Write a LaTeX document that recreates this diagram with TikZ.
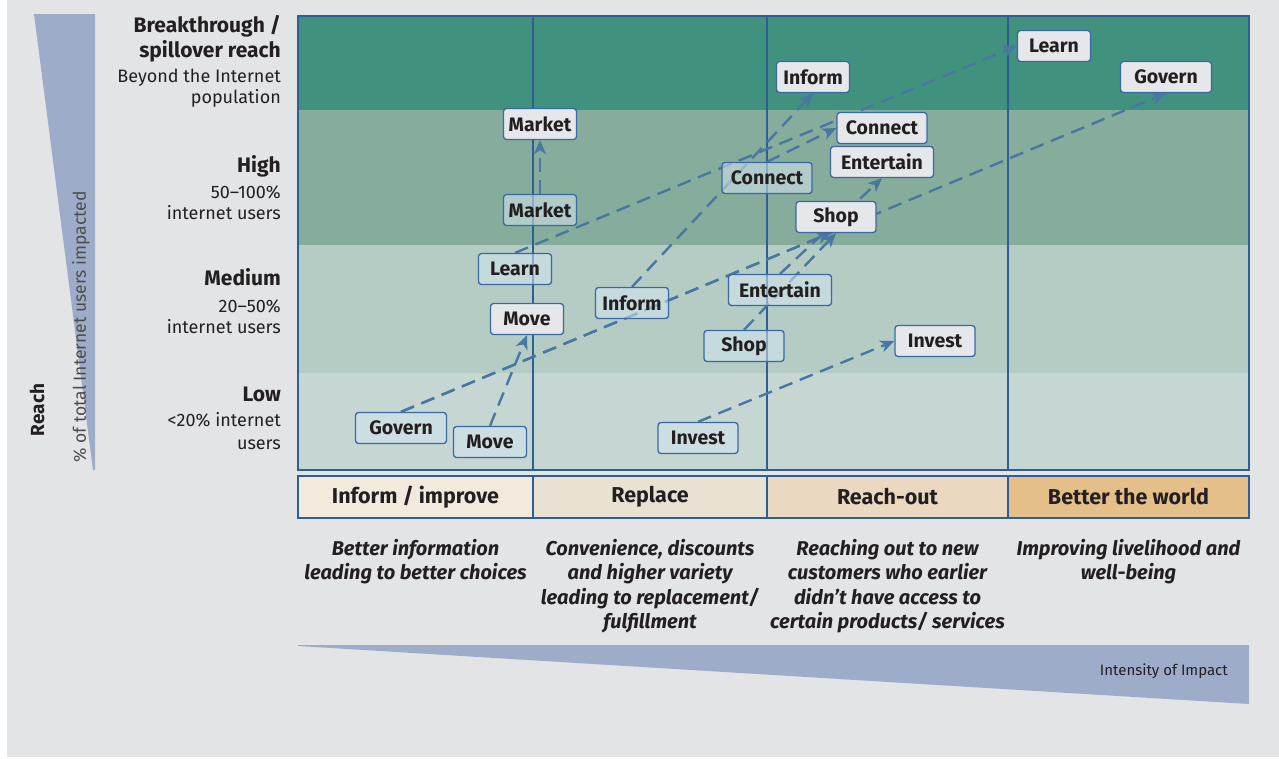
\documentclass[tikz,border=0pt]{standalone}
\usepackage{fontspec}
\setmainfont{Fira Sans}
\usetikzlibrary{arrows.meta,calc}
\pgfdeclarelayer{bg}
\pgfdeclarelayer{arr}
\pgfsetlayers{bg,arr,main}
\definecolor{pagegray}{HTML}{E3E4E6}
\definecolor{bandtop}{HTML}{41917F}
\definecolor{bandhigh}{HTML}{86AC9B}
\definecolor{bandmed}{HTML}{B4CCC4}
\definecolor{bandlow}{HTML}{C5D6D3}
\definecolor{gridline}{HTML}{2E5E94}
\definecolor{boxline}{HTML}{3A68A0}
\definecolor{lightbox}{HTML}{E6E7EA}
\definecolor{ghostfill}{HTML}{D4E6F0}
\definecolor{arrc}{HTML}{4A77A2}
\definecolor{txt}{HTML}{231F20}
\definecolor{wedge}{HTML}{9DADC9}
\definecolor{hcA}{HTML}{F2EBDD}
\definecolor{hcB}{HTML}{E9E2D3}
\definecolor{hcC}{HTML}{EAD9C0}
\definecolor{hcD}{HTML}{E5BF8A}
\begin{document}
\begin{tikzpicture}[x=1pt,y=-1pt,
  tag/.style={draw=boxline, line width=1.3pt, rounded corners=3pt, minimum height=31pt,
    inner xsep=0pt, inner ysep=0pt, text=txt, font=\fontsize{19.5}{21}\selectfont\bfseries},
  light/.style={tag, fill=lightbox},
  ghost/.style={tag, fill=ghostfill, fill opacity=0.55, text opacity=1},
  flow/.style={draw=arrc, line width=2.4pt, dash pattern=on 14pt off 8pt,
    -{Stealth[length=14pt,width=12pt,inset=4pt]}},
  rowbold/.style={anchor=mid east, inner sep=0pt, text=txt, font=\fontsize{21}{24}\selectfont\bfseries},
  rowreg/.style={anchor=mid east, inner sep=0pt, text=txt, font=\fontsize{18}{21}\selectfont},
  headcell/.style={draw=gridline, line width=1.3pt},
  headtext/.style={inner sep=0pt, text=txt, font=\fontsize{21.5}{23}\selectfont\bfseries},
  desc/.style={anchor=north, inner sep=0pt, align=center, text=txt,
    font=\fontsize{20}{24.5}\selectfont\bfseries\itshape}
]
\useasboundingbox (0,0) rectangle (1279,758);
\begin{pgfonlayer}{bg}
  \fill[white] (0,0) rectangle (1279,758);
  \fill[pagegray] (7,0) rectangle (1279,757);
  % wedges
  \fill[wedge] (34,14) -- (95,14) -- (95,470) -- (93,470) -- cycle;
  \fill[wedge] (298,646) -- (298,645) -- (1249,645) -- (1249,704) -- cycle;
  % bands
  \fill[bandtop] (298,16) rectangle (1249,110);
  \fill[bandhigh] (298,110) rectangle (1249,245);
  \fill[bandmed] (298,245) rectangle (1249,373);
  \fill[bandlow] (298,373) rectangle (1249,470);
  \draw[gridline, line width=1.6pt] (298,16) rectangle (1249,470);
  \foreach \xx in {533,767,1008} \draw[gridline, line width=1.6pt] (\xx,16) -- (\xx,470);
  % header cells
  \filldraw[headcell, fill=hcA] (298,476) rectangle (533,518);
  \filldraw[headcell, fill=hcB] (533,476) rectangle (767,518);
  \filldraw[headcell, fill=hcC] (767,476) rectangle (1008,518);
  \filldraw[headcell, fill=hcD] (1008,476) rectangle (1249,518);
\end{pgfonlayer}

% left axis texts
\node[rotate=90, inner sep=0pt, text=txt, font=\fontsize{19}{21}\selectfont\bfseries] (reach) at (37,410) {Reach};
\node[rotate=90, inner sep=0pt, text=txt!80, font=\fontsize{17.5}{20}\selectfont] (pct) at (81,327) {\% of total Internet users impacted};

% row labels
\node[rowbold] (r1a) at (281,30) {Breakthrough /};
\node[rowbold] (r1b) at (281,55) {spillover reach};
\node[rowreg] (r1c) at (281,80) {Beyond the Internet};
\node[rowreg] (r1d) at (281,101) {population};
\node[rowbold] (r2a) at (281,170) {High};
\node[rowreg] (r2b) at (281,196) {50–100\%};
\node[rowreg] (r2c) at (281,217) {internet users};
\node[rowbold] (r3a) at (281,283) {Medium};
\node[rowreg] (r3b) at (281,310) {20–50\%};
\node[rowreg] (r3c) at (281,331) {internet users};
\node[rowbold] (r4a) at (281,399) {Low};
\node[rowreg] (r4b) at (281,424) {<20\% internet};
\node[rowreg] (r4c) at (281,447) {users};

% header texts
\node[headtext] (h1) at (415.5,497) {Inform / improve};
\node[headtext] (h2) at (650,497) {Replace};
\node[headtext] (h3) at (887.5,497) {Reach-out};
\node[headtext] (h4) at (1128.5,497) {Better the world};

% descriptions
\node[desc] (d1) at (415.5,539) {Better information\\leading to better choices};
\node[desc] (d2) at (650,539) {Convenience, discounts\\and higher variety\\leading to replacement/\\fulfillment};
\node[desc] (d3) at (887.5,539) {Reaching out to new\\customers who earlier\\didn't have access to\\certain products/ services};
\node[desc] (d4) at (1128.5,539) {Improving livelihood and\\well-being};

\node[anchor=mid east, inner sep=0pt, text=txt, font=\fontsize{15}{18}\selectfont] (intens) at (1228,673) {Intensity of Impact};

% origin (translucent) boxes
\node[ghost, minimum width=73pt] (mktL) at (540,210) {Market};
\node[ghost, minimum width=90pt] (conM) at (767,178) {Connect};
\node[ghost, minimum width=73pt] (lrnM) at (515,269) {Learn};
\node[ghost, minimum width=73pt] (infM) at (632,303) {Inform};
\node[ghost, minimum width=103pt] (entM) at (780,290) {Entertain};
\node[ghost, minimum width=80pt] (shopL) at (744,346) {Shop};
\node[ghost, minimum width=91pt] (govL) at (401,428) {Govern};
\node[ghost, minimum width=73pt] (movL) at (490,442) {Move};
\node[ghost, minimum width=80pt] (invL) at (698,438) {Invest};

% target (opaque) boxes
\node[light, minimum width=73pt] (mktH) at (540,124) {Market};
\node[light, minimum width=73pt] (infT) at (813,77) {Inform};
\node[light, minimum width=73pt] (lrnT) at (1054,46) {Learn};
\node[light, minimum width=91pt] (govT) at (1166,77) {Govern};
\node[light, minimum width=90pt] (conH) at (882,128) {Connect};
\node[light, minimum width=103pt] (entH) at (882,162) {Entertain};
\node[light, minimum width=80pt] (shopH) at (836,217) {Shop};
\node[light, minimum width=80pt] (invH) at (935,341) {Invest};
\node[light, minimum width=73pt] (movM) at (527,319) {Move};

\begin{pgfonlayer}{arr}
  \draw[flow] (mktL.north) -- (mktH.south);
  \draw[flow] (govL.north) -- (govT.south);
  \draw[flow] (govL.north) -- ($(govL.north)!0.562!(govT.south)$);
  \draw[flow] (movL.north) -- (movM.south);
  \draw[flow] (lrnM.north) -- (lrnT.west);
  \draw[flow] (infM.north) -- (infT.south);
  \draw[flow] (conM.north) -- (conH.west);
  \draw[flow] (entM.north) -- (entH.south);
  \draw[flow] (shopL.north) -- (shopH.south);
  \draw[flow] (invL.north) -- (invH.west);
\end{pgfonlayer}
\end{tikzpicture}
\end{document}
